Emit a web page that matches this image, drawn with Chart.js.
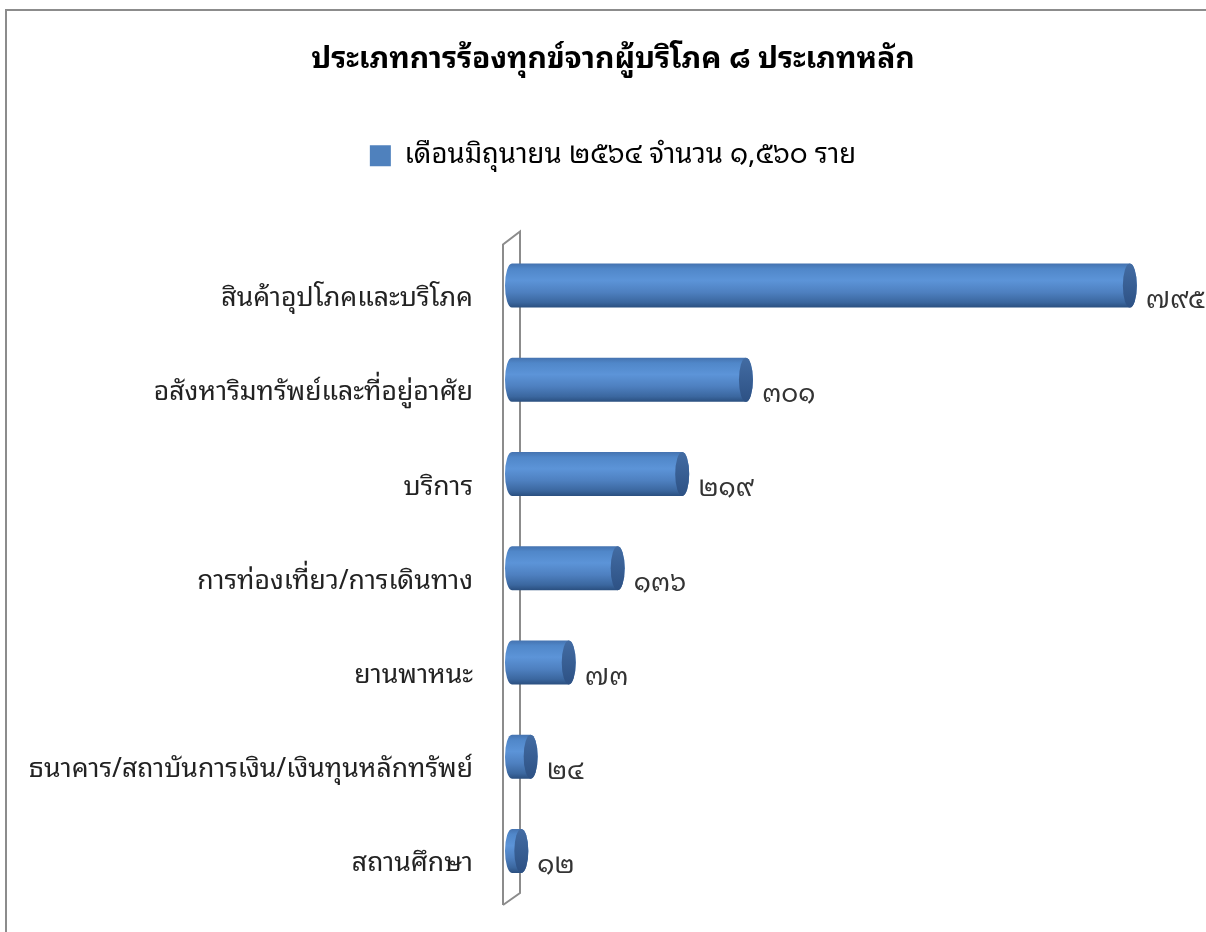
<!DOCTYPE html>
<html lang="th">
<head>
<meta charset="UTF-8">
<title>ประเภทการร้องทุกข์จากผู้บริโภค</title>
<script src="https://cdn.jsdelivr.net/npm/chart.js"></script>
<style>
  html, body { margin: 0; padding: 0; background: #fff; }
  #wrap { width: 1206px; height: 932px; position: relative; }
</style>
</head>
<body>
<div id="wrap"><canvas id="complaintChart"></canvas></div>
<script>
const categories = [
  'สินค้าอุปโภคและบริโภค',
  'อสังหาริมทรัพย์และที่อยู่อาศัย',
  'บริการ',
  'การท่องเที่ยว/การเดินทาง',
  'ยานพาหนะ',
  'ธนาคาร/สถาบันการเงิน/เงินทุนหลักทรัพย์',
  'สถานศึกษา'
];
const complaints = [795, 301, 219, 136, 73, 24, 12];
const seriesLabel = 'เดือนมิถุนายน ๒๕๖๔ จำนวน ๑,๕๖๐ ราย';
const chartTitle = 'ประเภทการร้องทุกข์จากผู้บริโภค ๘ ประเภทหลัก';

const thaiDigits = '๐๑๒๓๔๕๖๗๘๙';
const toThai = n => String(n).replace(/\d/g, d => thaiDigits[d]);

const FONT = "'Noto Sans Thai Looped', 'Noto Sans Thai', Tahoma, 'Noto Sans', sans-serif";
Chart.defaults.font.family = FONT;

const CAP = 7; // half-width of the cylinder end ellipse

// outer frame of the chart object
const frame = {
  id: 'frame',
  beforeDraw(chart) {
    const ctx = chart.ctx;
    ctx.save();
    ctx.strokeStyle = '#8c8c8c';
    ctx.lineWidth = 2;
    ctx.strokeRect(6, 10, chart.width + 20, chart.height + 20);
    ctx.restore();
  }
};

// thin 3D back wall behind the bars
const wall = {
  id: 'wall',
  beforeDatasetsDraw(chart) {
    const {ctx, chartArea} = chart;
    const x0 = chart.scales.x.getPixelForValue(0);
    const t = chartArea.top, b = chartArea.bottom;
    ctx.save();
    ctx.strokeStyle = '#8c8c8c';
    ctx.lineWidth = 2;
    ctx.beginPath();
    ctx.moveTo(x0 - 9, b + 7);
    ctx.lineTo(x0 - 9, t + 6);
    ctx.lineTo(x0 + 8, t - 7);
    ctx.lineTo(x0 + 8, b - 5);
    ctx.lineTo(x0 - 9, b + 7);
    ctx.stroke();
    ctx.restore();
  }
};

// cylinders + value labels
const cylinders = {
  id: 'cylinders',
  afterDatasetsDraw(chart) {
    const ctx = chart.ctx;
    const meta = chart.getDatasetMeta(0);
    ctx.save();
    meta.data.forEach((el, i) => {
      const x0 = el.base, x1 = el.x, cy = el.y, ry = el.height / 2;
      const g = ctx.createLinearGradient(0, cy - ry, 0, cy + ry);
      g.addColorStop(0, '#4573b0');
      g.addColorStop(0.12, '#5087c9');
      g.addColorStop(0.38, '#5c94d8');
      g.addColorStop(0.65, '#4e80c0');
      g.addColorStop(0.88, '#3b679f');
      g.addColorStop(1, '#2a4f7f');
      ctx.beginPath();
      ctx.moveTo(x0, cy - ry);
      ctx.lineTo(x1, cy - ry);
      ctx.ellipse(x1, cy, CAP, ry, 0, -Math.PI / 2, Math.PI / 2, false);
      ctx.lineTo(x0, cy + ry);
      ctx.ellipse(x0, cy, CAP, ry, 0, Math.PI / 2, Math.PI * 1.5, false);
      ctx.closePath();
      ctx.fillStyle = g;
      ctx.fill();

      const cg = ctx.createLinearGradient(0, cy - ry, 0, cy + ry);
      cg.addColorStop(0, '#436ca3');
      cg.addColorStop(1, '#2d5184');
      ctx.beginPath();
      ctx.ellipse(x1, cy, CAP, ry, 0, 0, Math.PI * 2);
      ctx.fillStyle = cg;
      ctx.fill();

      ctx.fillStyle = '#333';
      ctx.font = '26px ' + FONT;
      ctx.textAlign = 'left';
      ctx.textBaseline = 'middle';
      ctx.fillText(toThai(complaints[i]), x1 + CAP + 9, cy + 15);
    });
    ctx.restore();
  }
};

new Chart(document.getElementById('complaintChart'), {
  type: 'bar',
  data: {
    labels: categories,
    datasets: [{
      label: seriesLabel,
      data: complaints,
      backgroundColor: 'rgba(0,0,0,0)',
      borderWidth: 0,
      barPercentage: 0.467,
      categoryPercentage: 1
    }]
  },
  options: {
    indexAxis: 'y',
    responsive: true,
    maintainAspectRatio: false,
    animation: false,
    layout: { padding: { top: 42, right: 0, bottom: 34, left: 20 } },
    plugins: {
      title: {
        display: true,
        text: chartTitle,
        color: '#000',
        font: { size: 30, weight: 'bold' },
        padding: { top: 0, bottom: 54 }
      },
      legend: {
        display: true,
        labels: {
          boxWidth: 21,
          boxHeight: 21,
          padding: 10,
          color: '#222',
          font: { size: 27.5 },
          generateLabels: chart => [{
            text: seriesLabel,
            fillStyle: '#4f81bd',
            strokeStyle: '#4f81bd',
            lineWidth: 0,
            datasetIndex: 0
          }]
        }
      },
      tooltip: { enabled: false }
    },
    scales: {
      x: {
        position: 'top',
        min: 0,
        max: 893,
        grid: { display: false },
        border: { display: false },
        ticks: { display: false },
        afterFit: s => { s.height = 59; }
      },
      y: {
        grid: { display: false },
        border: { display: false },
        ticks: {
          color: '#222',
          font: { size: 26.6 },
          padding: 31,
          labelOffset: 13
        },
        afterFit: s => {
          s.width = 492;
          s.paddingTop = 0;
          s.paddingBottom = 0;
        }
      }
    }
  },
  plugins: [frame, wall, cylinders]
});
</script>
</body>
</html>
